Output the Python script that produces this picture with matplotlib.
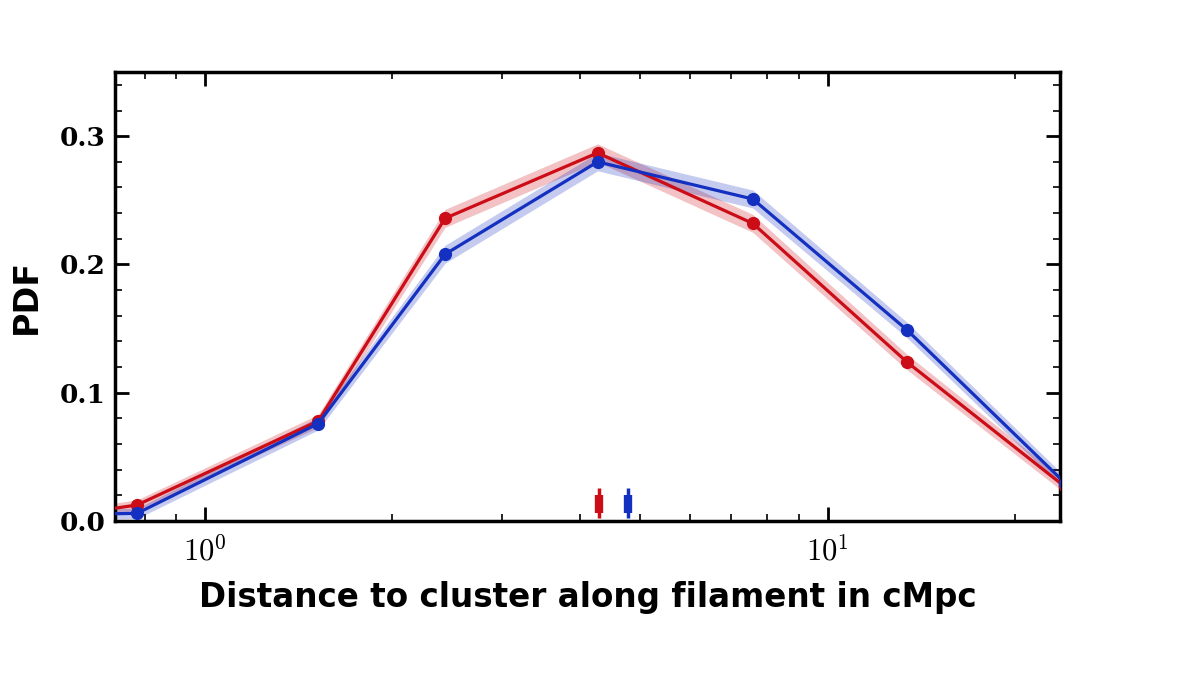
import numpy as np
import matplotlib
matplotlib.use("Agg")
import matplotlib.pyplot as plt
from matplotlib.ticker import LogLocator, MultipleLocator, FixedLocator, NullFormatter

plt.rcParams["mathtext.fontset"] = "cm"

# Data (bin centres in cMpc, PDF values)
dist = [0.60, 0.778, 1.52, 2.43, 4.27, 7.58, 13.4, 24.0]
pdf_red = [0.0045, 0.0125, 0.078, 0.236, 0.287, 0.232, 0.124, 0.027]
pdf_blue = [0.005, 0.006, 0.076, 0.208, 0.280, 0.251, 0.149, 0.030]
err_red = [0.004, 0.004, 0.005, 0.007, 0.007, 0.007, 0.006, 0.005]
err_blue = [0.004, 0.004, 0.005, 0.007, 0.007, 0.007, 0.006, 0.005]

# medians with spread, shown along the bottom
med_red, med_blue = 4.29, 4.78
inner_lo, inner_hi = 0.006, 0.020
outer_lo, outer_hi = 0.002, 0.026

red = "#cc0c16"
blue = "#1430c0"

fig = plt.figure(figsize=(12.03, 6.88), dpi=100)
ax = fig.add_axes([0.0956, 0.2427, 0.7855, 0.6526])

ax.plot([0.5, 1.0], [0, 0], color=blue, lw=1.5, zorder=2)

for y, e, c in [(pdf_red, err_red, red), (pdf_blue, err_blue, blue)]:
    y = np.array(y)
    e = np.array(e)
    ax.fill_between(dist, y - e, y + e, color=c, alpha=0.25, lw=0, zorder=1)
    ax.plot(dist, y, color=c, lw=2.3, marker="o", ms=8.5, zorder=3)

for m, c in [(med_red, red), (med_blue, blue)]:
    ax.vlines(m, outer_lo, outer_hi, color=c, lw=2.5, zorder=4)
    ax.vlines(m, inner_lo, inner_hi, color=c, lw=6, zorder=4)

ax.set_xscale("log")
ax.set_xlim(0.717, 23.6)
ax.set_ylim(0, 0.35)

ax.xaxis.set_major_locator(FixedLocator([1, 10]))
ax.set_xticklabels([r"$10^0$", r"$10^1$"], fontsize=22)
ax.xaxis.set_minor_locator(LogLocator(base=10, subs=np.arange(2, 10)))
ax.xaxis.set_minor_formatter(NullFormatter())

ax.yaxis.set_minor_locator(MultipleLocator(0.02))
ax.set_yticks([0, 0.1, 0.2, 0.3])
ax.set_yticklabels(["0.0", "0.1", "0.2", "0.3"], fontsize=19,
                   family="DejaVu Serif", fontweight="bold")

ax.tick_params(which="both", direction="in", top=True, right=True)
ax.tick_params(which="major", length=10, width=2)
ax.tick_params(which="minor", length=5, width=1.2)
ax.tick_params(axis="x", pad=10)
ax.tick_params(axis="y", pad=7)
for s in ax.spines.values():
    s.set_linewidth(2.5)

ax.set_xlabel("Distance to cluster along filament in cMpc", fontsize=23.5,
              fontweight="bold", family="DejaVu Sans", labelpad=11)
ax.set_ylabel("PDF", fontsize=24, fontweight="bold", family="DejaVu Sans", labelpad=12)

fig.savefig("out.png", dpi=100)
